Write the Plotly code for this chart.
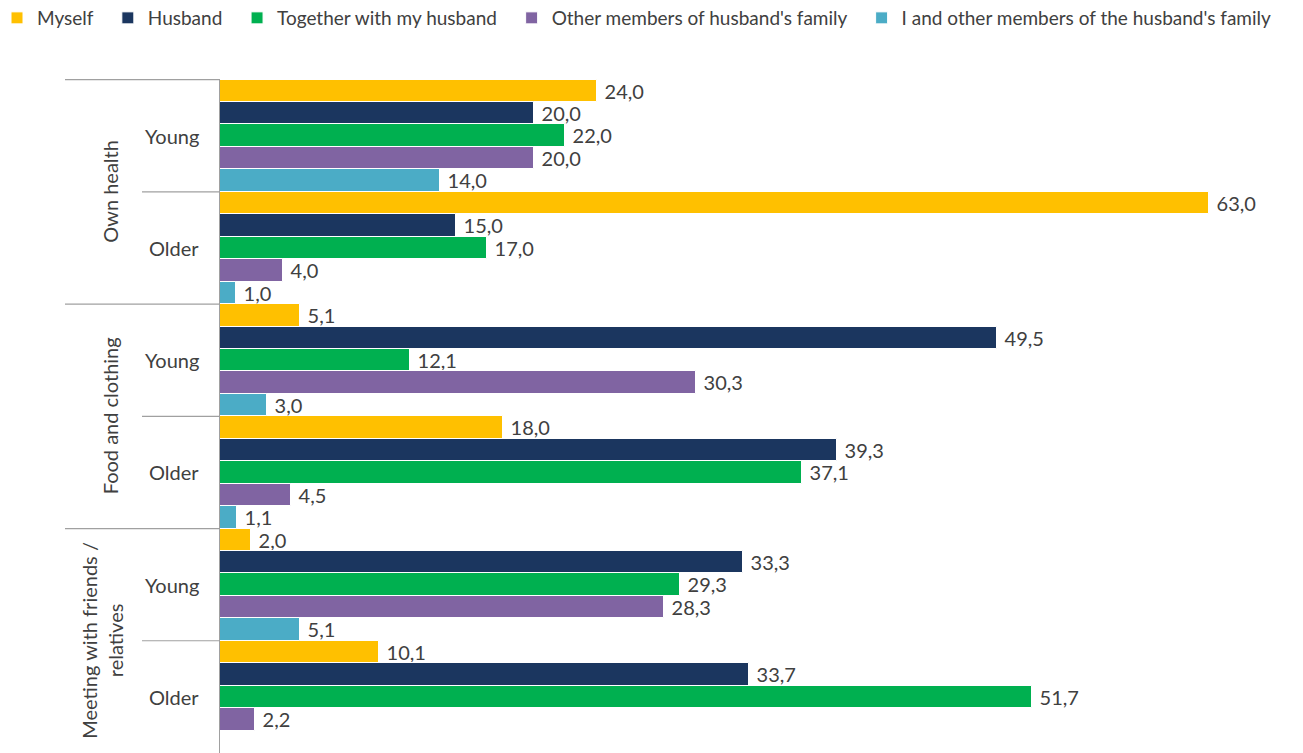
import plotly.graph_objects as go

groups = ["Own health", "Food and clothing", "Meeting with friends /<br>relatives"]
ages = ["Young", "Older"]
series_names = ["Myself", "Husband", "Together with my husband",
                "Other members of husband's family",
                "I and other members of the husband's family"]
colors = ["#FFC000", "#1B365F", "#00B050", "#8064A2", "#4BACC6"]

# order: Own health Young, Own health Older, Food Young, Food Older, Meeting Young, Meeting Older
myself = [24.0, 63.0, 5.1, 18.0, 2.0, 10.1]
husband = [20.0, 15.0, 49.5, 39.3, 33.3, 33.7]
together = [22.0, 17.0, 12.1, 37.1, 29.3, 51.7]
other_family = [20.0, 4.0, 30.3, 4.5, 28.3, 2.2]
me_and_family = [14.0, 1.0, 3.0, 1.1, 5.1, None]
series_values = [myself, husband, together, other_family, me_and_family]

cats = [f"{g}|{a}" for g in groups for a in ages]

FONT = "Lato"
TXT = "#404040"
PAD = "\u00a0\u00a0"  # extra spacing between legend entries

fig = go.Figure()
for k, (name, vals, col) in enumerate(zip(series_names, series_values, colors)):
    fig.add_trace(go.Bar(
        y=cats, x=vals, name=name + (PAD if k < len(series_names) - 1 else ""),
        orientation="h",
        marker=dict(color=col, line=dict(color="white", width=1)),
        text=[("" if v is None else " " + f"{v:.1f}".replace(".", ",")) for v in vals],
        textposition="outside", cliponaxis=False, constraintext="none",
        textfont=dict(family=FONT, size=20, color=TXT),
        hoverinfo="skip",
    ))

W = 1303
H = 753
L = 220
T = 79
R = 10
plot_w = W - L - R
plot_h = H - T

def px2paper(px):
    return (px - L) / plot_w

shapes = []
# separators: long at group boundaries, short at age boundaries
for i in range(len(cats)):
    yb = i - 0.5
    x0 = px2paper(65) if i % 2 == 0 else px2paper(142)
    shapes.append(dict(type="line", xref="paper", yref="y", x0=x0, x1=0,
                       y0=yb, y1=yb, line=dict(color="#A0A0A0", width=1.2)))

annotations = []
for i, c in enumerate(cats):
    annotations.append(dict(xref="paper", yref="y", x=0, y=i, xanchor="right",
                            xshift=-19, text=c.split("|")[1], showarrow=False,
                            font=dict(family=FONT, size=20, color=TXT)))
for gi, g in enumerate(groups):
    annotations.append(dict(xref="paper", yref="y", x=0, y=gi * 2 + 0.5,
                            xanchor="center", yanchor="middle",
                            xshift=-118 if "<br>" in g else -110,
                            text=g, showarrow=False, textangle=-90,
                            font=dict(family=FONT, size=20, color=TXT)))

fig.update_layout(
    width=W, height=H,
    margin=dict(l=L, r=R, t=T, b=0, autoexpand=False),
    paper_bgcolor="white", plot_bgcolor="white",
    barmode="group", bargap=0, bargroupgap=0,
    font=dict(family=FONT, color=TXT),
    legend=dict(orientation="h",
                x=(-3 - L) / plot_w, xanchor="left",
                y=1 + (T + 1) / plot_h, yanchor="top",
                font=dict(family=FONT, size=19, color=TXT),
                bgcolor="rgba(0,0,0,0)",
                traceorder="normal", itemwidth=30),
    xaxis=dict(range=[0, plot_w / 15.7], visible=False, showgrid=False, zeroline=False),
    yaxis=dict(categoryorder="array", categoryarray=cats, autorange="reversed",
               showticklabels=False, ticks="", showgrid=False, zeroline=False,
               showline=True, linecolor="#A0A0A0", linewidth=1.2),
    shapes=shapes, annotations=annotations,
    showlegend=True,
)

fig.write_html("out.html", config={"displayModeBar": False},
               post_script="document.body.style.margin='0';document.body.style.overflow='hidden';")
